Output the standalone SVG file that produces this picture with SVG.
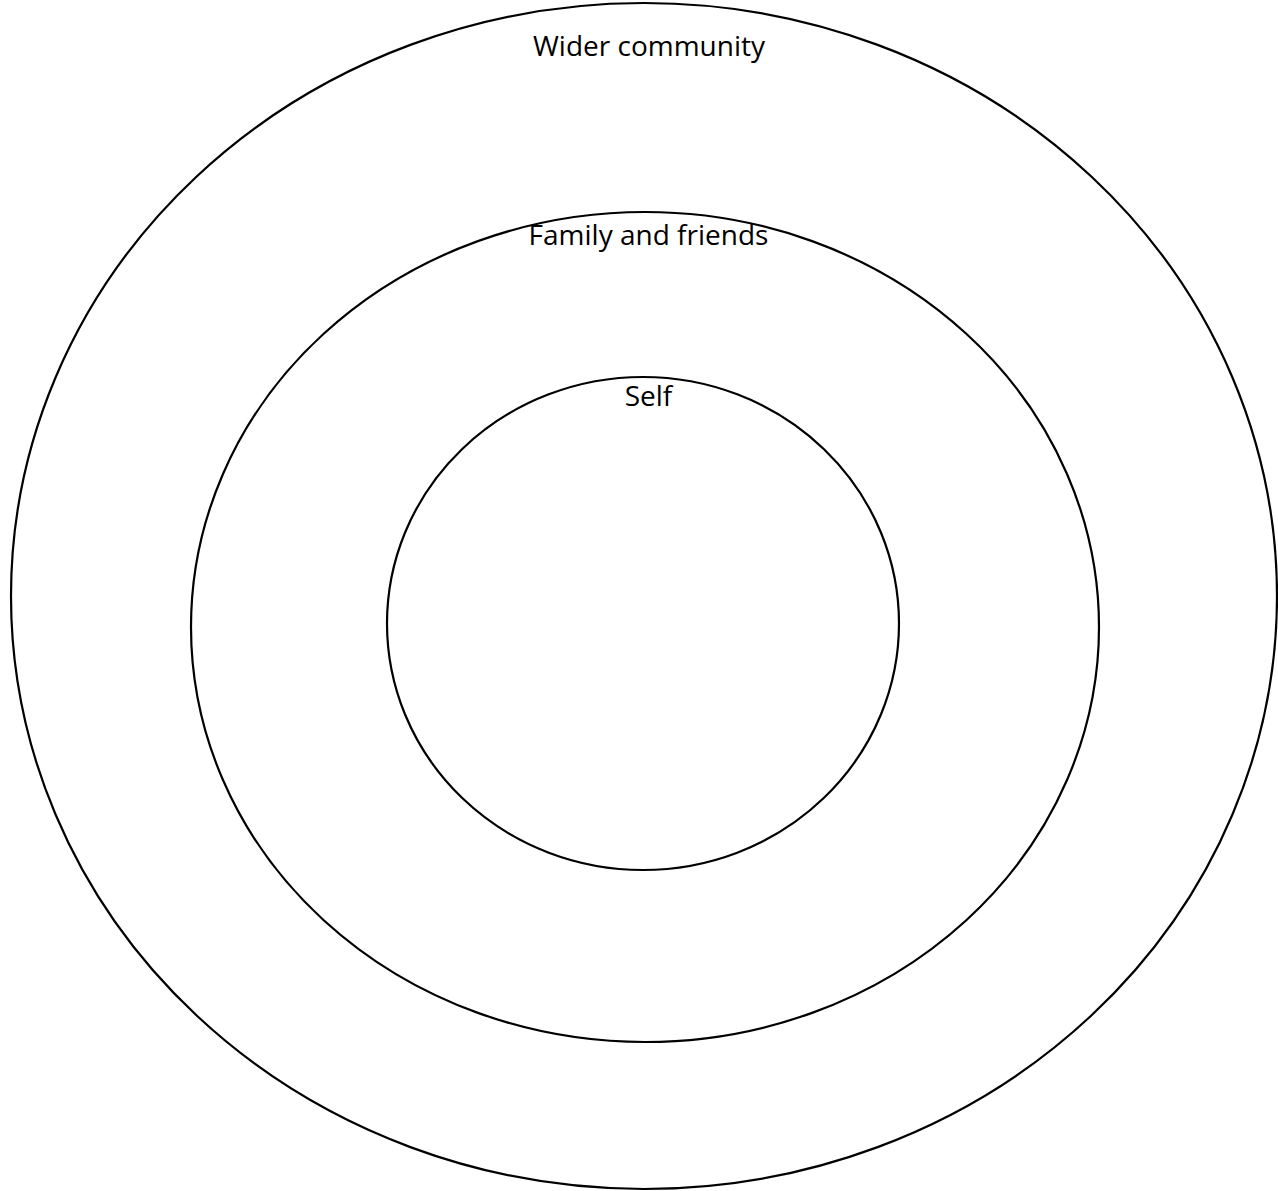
<svg xmlns="http://www.w3.org/2000/svg" width="1278" height="1191" viewBox="0 0 1278 1191">
<style>
.ring{fill:none;stroke:#000;stroke-width:2.2}
.lbl{font-family:"Open Sans","Liberation Sans",sans-serif;font-size:28px;fill:#000;text-anchor:middle}
</style>
<rect width="1278" height="1191" fill="#fff"/>
<g id="wider">
<ellipse class="ring" cx="644" cy="596" rx="633" ry="593"/>
<text class="lbl" x="649" y="56">Wider community</text>
</g>
<g id="family">
<ellipse class="ring" cx="645" cy="627" rx="454" ry="415"/>
<text class="lbl" x="648.5" y="245">Family and friends</text>
</g>
<g id="self">
<ellipse class="ring" cx="643" cy="623.5" rx="256" ry="246.5"/>
<text class="lbl" x="648.5" y="406">Self</text>
</g>
<g id="connectors"/>
</svg>
